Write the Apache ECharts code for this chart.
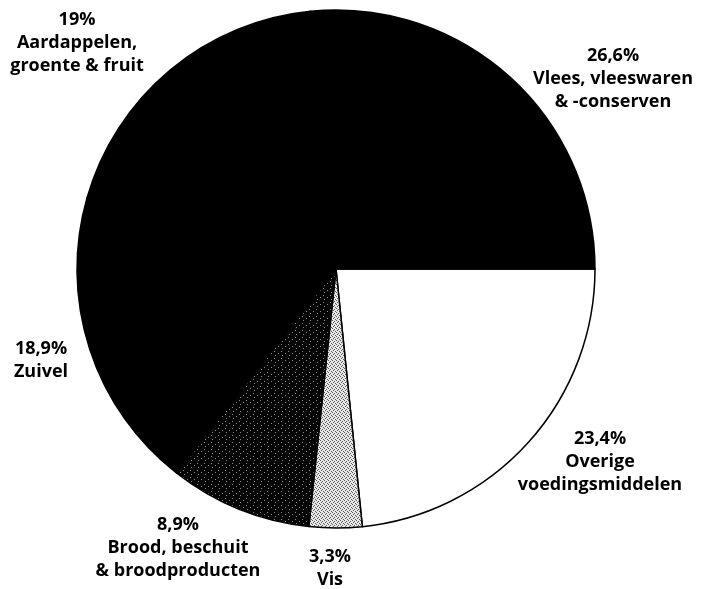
<!DOCTYPE html>
<html>
<head>
<meta charset="utf-8">
<script src="https://cdn.jsdelivr.net/npm/echarts@6/dist/echarts.min.js"></script>
<style>
  html, body {margin: 0; padding: 0; background: #fff;}
  #chart {width: 701px; height: 589px;}
</style>
</head>
<body>
<div id="chart"></div>
<script>
// data, clockwise from 3 o'clock
const categories = [
  'Overige\nvoedingsmiddelen',
  'Vis',
  'Brood, beschuit\n& broodproducten',
  'Zuivel',
  'Aardappelen,\ngroente & fruit',
  'Vlees, vleeswaren\n& -conserven'
]
const shares = [23.4, 3.3, 8.9, 18.9, 19, 26.6]

// label centres (px), same order
const labelPos = [[600, 462], [330, 568], [178, 548], [41, 360], [77, 43], [613, 79]]

// stipple fills
const makePattern = (size, base, dot, dots) => {
  const c = document.createElement('canvas')
  c.width = size
  c.height = size
  const ctx = c.getContext('2d')
  ctx.fillStyle = base
  ctx.fillRect(0, 0, size, size)
  ctx.fillStyle = dot
  dots.forEach(([x, y]) => ctx.fillRect(x, y, 1, 1))
  return c
}
const darkDots = makePattern(7, '#050505', '#8a8a8a', [[1, 1], [5, 3], [2, 5]])
const lightDots = makePattern(4, '#e8e8e8', '#5a5a5a', [[0, 0], [2, 1], [1, 2], [3, 3]])

const fills = ['#ffffff', {image: lightDots, repeat: 'repeat'}, {image: darkDots, repeat: 'repeat'}, '#000', '#000', '#000']

const chart = echarts.init(document.getElementById('chart'), null, {renderer: 'canvas'})

chart.setOption({
  backgroundColor: '#fff',
  animation: false,
  series: [{
    type: 'pie',
    center: [336, 269],
    radius: 259,
    startAngle: 0,
    clockwise: true,
    avoidLabelOverlap: false,
    itemStyle: {borderColor: '#000', borderWidth: 1.5},
    label: {
      show: true,
      position: 'outside',
      color: '#000',
      fontFamily: 'Open Sans',
      fontWeight: 'bold',
      fontSize: 18,
      lineHeight: 23,
      align: 'center',
      formatter: p => String(p.value).replace('.', ',') + '%\n' + p.name
    },
    labelLine: {show: false},
    labelLayout: p => ({
      x: labelPos[p.dataIndex][0],
      y: labelPos[p.dataIndex][1],
      align: 'center',
      verticalAlign: 'middle'
    }),
    data: categories.map((name, i) => ({
      name,
      value: shares[i],
      itemStyle: {color: fills[i]}
    }))
  }]
})
</script>
</body>
</html>
